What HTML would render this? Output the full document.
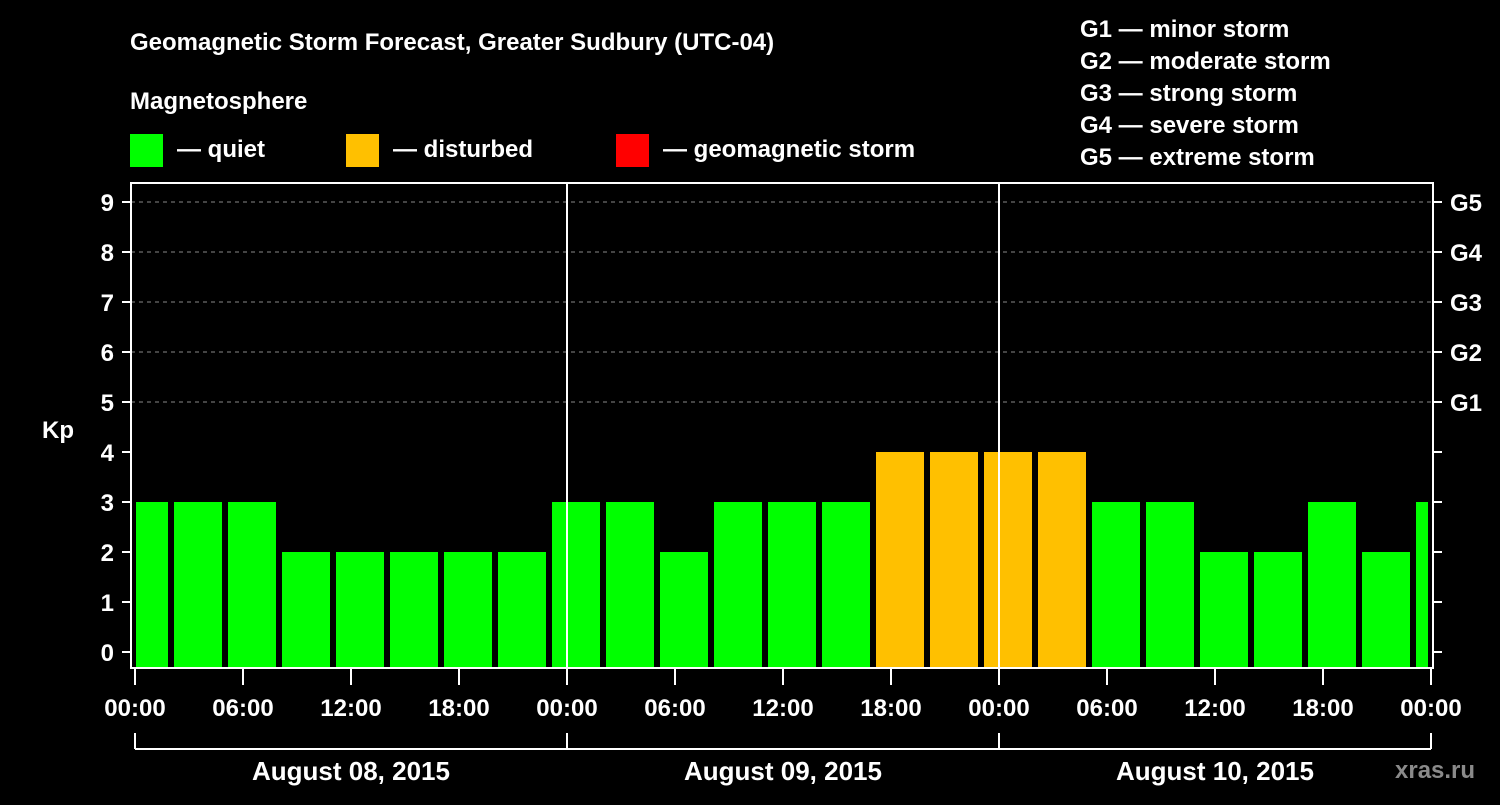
<!DOCTYPE html>
<html><head><meta charset="utf-8"><style>
body{margin:0;background:#000;width:1500px;height:800px;overflow:hidden}
svg text{font-family:"Liberation Sans",Arial,sans-serif;font-weight:bold;fill:#fff}
</style></head><body>
<svg id="c" width="1500" height="800" xmlns="http://www.w3.org/2000/svg">
<text x="130" y="50" font-size="24">Geomagnetic Storm Forecast, Greater Sudbury (UTC-04)</text>
<text x="130" y="109" font-size="24">Magnetosphere</text>
<g><rect x="130" y="134" width="33" height="33" fill="#00ff00"/><text x="177" y="157" font-size="24">— quiet</text></g>
<g><rect x="346" y="134" width="33" height="33" fill="#ffc000"/><text x="393" y="157" font-size="24">— disturbed</text></g>
<g><rect x="616" y="134" width="33" height="33" fill="#ff0000"/><text x="663" y="157" font-size="24">— geomagnetic storm</text></g>
<g font-size="24">
<text x="1080" y="37">G1 — minor storm</text><text x="1080" y="69">G2 — moderate storm</text><text x="1080" y="101">G3 — strong storm</text><text x="1080" y="133">G4 — severe storm</text><text x="1080" y="165">G5 — extreme storm</text></g>
<text x="42" y="438" font-size="24">Kp</text>
<g id="grid"></g><g id="bars"></g><g id="axes"></g>
<text x="1395" y="778" font-size="24" fill="#888" style="fill:#8a8a8a">xras.ru</text>
</svg>
<script>
const values=[3,3,3,2,2,2,2,2,3,3,2,3,3,3,4,4,4,4,3,3,2,2,3,2,3];
const yTicks=[0,1,2,3,4,5,6,7,8,9];
const gLabels=["G1","G2","G3","G4","G5"];
const xLabels=["00:00","06:00","12:00","18:00","00:00","06:00","12:00","18:00","00:00","06:00","12:00","18:00","00:00"];
const days=["August 08, 2015","August 09, 2015","August 10, 2015"];
const NS="http://www.w3.org/2000/svg";
const L=131,R=1433,T=183,B=668,X0=135,PXH=18;
const y=v=>652-50*v;
const xh=h=>X0+h*PXH;
function mk(t,a,p){const e=document.createElementNS(NS,t);for(const k in a)e.setAttribute(k,a[k]);p.appendChild(e);return e;}
const grid=document.getElementById('grid'),bars=document.getElementById('bars'),ax=document.getElementById('axes');
[5,6,7,8,9].forEach(v=>{const l=mk('line',{x1:L,x2:R,y1:y(v),y2:y(v),stroke:'#888','stroke-width':1,'stroke-dasharray':'4,4'},grid);

});
values.forEach((v,i)=>{let x1=xh(i*3)-15,x2=x1+48;x1=Math.max(x1,136);x2=Math.min(x2,1428);
const c=v>=5?'#ff0000':v>=4?'#ffc000':'#00ff00';
const r=mk('rect',{x:x1,y:y(v),width:x2-x1,height:B-y(v),fill:c},bars);

});
mk('rect',{x:L,y:T,width:R-L,height:B-T,fill:'none',stroke:'#fff','stroke-width':2},ax);
[24,48].forEach(h=>mk('line',{x1:xh(h),x2:xh(h),y1:T,y2:B,stroke:'#fff','stroke-width':2},ax));
yTicks.forEach(v=>{mk('line',{x1:122,x2:L,y1:y(v),y2:y(v),stroke:'#fff','stroke-width':2},ax);
mk('line',{x1:R,x2:1442,y1:y(v),y2:y(v),stroke:'#fff','stroke-width':2},ax);
const t=mk('text',{x:114,y:y(v)+9,'font-size':24,'text-anchor':'end'},ax);t.textContent=v;

});
gLabels.forEach((g,i)=>{const t=mk('text',{x:1450,y:y(5+i)+9,'font-size':24},ax);t.textContent=g;

});
xLabels.forEach((s,i)=>{const x=xh(i*6);mk('line',{x1:x,x2:x,y1:B,y2:685,stroke:'#fff','stroke-width':2},ax);
const t=mk('text',{x:x,y:716,'font-size':24,'text-anchor':'middle'},ax);t.textContent=s;

});
mk('line',{x1:xh(0),x2:xh(72),y1:749,y2:749,stroke:'#fff','stroke-width':2},ax);
[0,24,48,72].forEach(h=>mk('line',{x1:xh(h),x2:xh(h),y1:733,y2:749,stroke:'#fff','stroke-width':2},ax));
days.forEach((d,i)=>{const t=mk('text',{x:xh(i*24+12),y:780,'font-size':26,'text-anchor':'middle'},ax);t.textContent=d;

});
</script>
</body></html>
